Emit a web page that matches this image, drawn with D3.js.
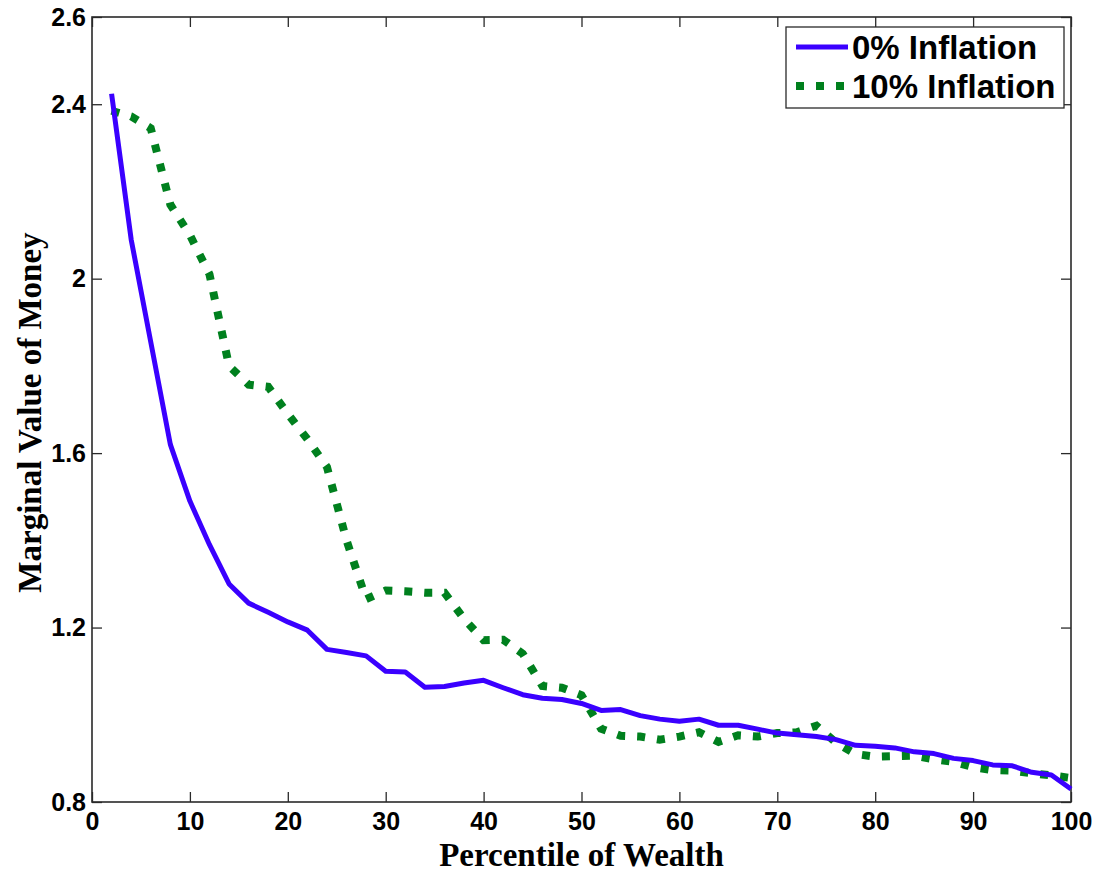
<!DOCTYPE html>
<html>
<head>
<meta charset="utf-8">
<script src="https://cdn.jsdelivr.net/npm/d3@7"></script>
<style>
  html, body { margin: 0; padding: 0; background: #ffffff; }
  svg { display: block; }
</style>
</head>
<body>
<svg id="chart" width="1101" height="875"></svg>
<script>
const percentiles = [2,4,6,8,10,12,14,16,18,20,22,24,26,28,30,32,34,36,38,40,42,44,46,48,50,
  52,54,56,58,60,62,64,66,68,70,72,74,76,78,80,82,84,86,88,90,92,94,96,98,100];
const inflation0 = [2.424,2.09,1.855,1.62,1.49,1.39,1.30,1.256,1.235,1.213,1.194,1.15,1.143,1.135,1.10,1.098,1.063,1.065,1.073,1.079,1.062,1.046,1.038,1.035,1.026,
  1.010,1.012,0.998,0.990,0.985,0.990,0.976,0.976,0.967,0.958,0.954,0.950,0.943,0.930,0.928,0.924,0.915,0.911,0.900,0.895,0.885,0.883,0.868,0.862,0.830];
const inflation10 = [2.385,2.372,2.345,2.17,2.10,2.01,1.80,1.757,1.752,1.69,1.632,1.568,1.40,1.265,1.285,1.283,1.280,1.280,1.22,1.171,1.172,1.14,1.066,1.062,1.045,
  0.968,0.952,0.950,0.943,0.950,0.960,0.938,0.953,0.950,0.958,0.960,0.975,0.936,0.910,0.904,0.905,0.906,0.898,0.892,0.880,0.873,0.872,0.866,0.861,0.855];
const xTicks = [0,10,20,30,40,50,60,70,80,90,100];
const yTicks = [0.8,1.2,1.6,2,2.4,2.6];
const seriesNames = ["0% Inflation", "10% Inflation"];

const svg = d3.select("#chart");
const L = 92, R = 1071, T = 17, B = 802;
const x = d3.scaleLinear().domain([0,100]).range([L,R]);
const y = d3.scaleLinear().domain([0.8,2.6]).range([B,T]);

const tickFont = "bold 25px 'Liberation Sans', Arial, sans-serif";
const axisColor = "#2a2a2a";

function styleAxis(g, showText) {
  g.select(".domain").remove();
  g.selectAll(".tick line").attr("stroke", axisColor).attr("stroke-width", 1.3);
  g.selectAll(".tick text").style("font", tickFont).attr("fill", "#000");
  if (!showText) g.selectAll(".tick text").remove();
}

svg.append("g").attr("transform", `translate(0,${B})`)
  .call(d3.axisBottom(x).tickValues(xTicks).tickSizeInner(-10).tickSizeOuter(0).tickPadding(10).tickFormat(d3.format("d")))
  .call(g => styleAxis(g, true));
svg.append("g").attr("transform", `translate(0,${T})`)
  .call(d3.axisTop(x).tickValues(xTicks).tickSizeInner(-10).tickSizeOuter(0))
  .call(g => styleAxis(g, false));
svg.append("g").attr("transform", `translate(${L},0)`)
  .call(d3.axisLeft(y).tickValues(yTicks).tickSizeInner(-10).tickSizeOuter(0).tickPadding(6).tickFormat(d => String(d)))
  .call(g => styleAxis(g, true));
svg.append("g").attr("transform", `translate(${R},0)`)
  .call(d3.axisRight(y).tickValues(yTicks).tickSizeInner(-10).tickSizeOuter(0))
  .call(g => styleAxis(g, false));

svg.append("rect").attr("x", L).attr("y", T).attr("width", R-L).attr("height", B-T)
  .attr("fill", "none").attr("stroke", axisColor).attr("stroke-width", 1.6);

const line = d3.line().x((d,i) => x(percentiles[i])).y(d => y(d));

const blue = "#3a00ff", green = "#00801e";

svg.append("path").datum(inflation10).attr("d", line)
  .attr("fill", "none").attr("stroke", green).attr("stroke-width", 8)
  .attr("stroke-dasharray", "8 12");
svg.append("path").datum(inflation0).attr("d", line)
  .attr("fill", "none").attr("stroke", blue).attr("stroke-width", 5)
  .attr("stroke-linejoin", "round");

// axis titles
svg.append("text").attr("x", (L+R)/2).attr("y", 866).attr("text-anchor", "middle")
  .style("font", "bold 33px 'Liberation Serif', 'Times New Roman', serif").text("Percentile of Wealth");
svg.append("text").attr("transform", `translate(41,${(T+B)/2 + 3}) rotate(-90)`).attr("text-anchor", "middle")
  .style("font", "bold 33px 'Liberation Serif', 'Times New Roman', serif").text("Marginal Value of Money");

// legend
const lg = svg.append("g");
lg.append("rect").attr("x", 786).attr("y", 27).attr("width", 278).attr("height", 81)
  .attr("fill", "#fff").attr("stroke", axisColor).attr("stroke-width", 1.3);
lg.append("line").attr("x1", 796).attr("x2", 848).attr("y1", 47).attr("y2", 47)
  .attr("stroke", blue).attr("stroke-width", 5);
lg.append("line").attr("x1", 796).attr("x2", 848).attr("y1", 86).attr("y2", 86)
  .attr("stroke", green).attr("stroke-width", 8).attr("stroke-dasharray", "8 12");
lg.selectAll("text.lab").data(seriesNames).join("text").attr("class", "lab")
  .attr("x", 852).attr("y", (d,i) => 59 + i*39)
  .style("font", "bold 33px 'Liberation Sans', Arial, sans-serif").text(d => d);
</script>
</body>
</html>
